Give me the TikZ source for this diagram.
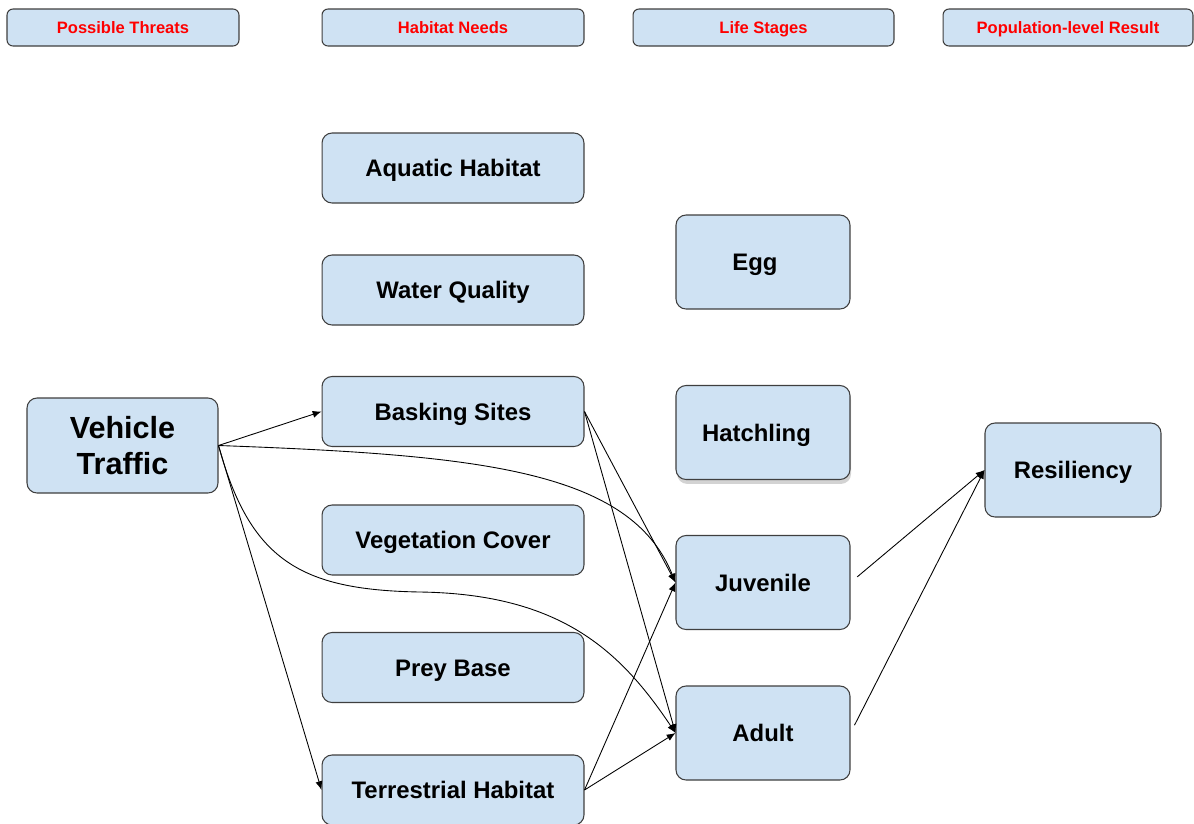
\documentclass[tikz,border=0pt]{standalone}
\usepackage{fontspec}
\setmainfont{Liberation Sans}
\usetikzlibrary{arrows.meta, shadows}
\definecolor{boxblue}{HTML}{CFE2F3}
\definecolor{boxline}{HTML}{3F3F3F}
\definecolor{headred}{HTML}{FF0000}

\begin{document}
\begin{tikzpicture}[x=0.02cm, y=-0.02cm]

\tikzset{box/.style = {shape=rectangle, rounded corners=0.2cm, draw=boxline, fill=boxblue, line width=0.6pt, inner sep=0pt, font=\fontsize{13.6}{16}\selectfont\bfseries}}
\tikzset{head/.style = {box, rounded corners=0.12cm, minimum height=0.74cm, text height=6.7pt, text depth=0pt, text=headred, font=\fontsize{9.4}{11}\selectfont\bfseries}}
\tikzset{need/.style = {box, minimum width=5.24cm, minimum height=1.4cm, text height=9.7pt, text depth=0pt}}
\tikzset{stage/.style = {box, minimum width=3.48cm, minimum height=1.88cm, text height=9.7pt, text depth=0pt}}
\tikzset{edge/.style = {-{Latex[length=5pt,width=4pt]}, line width=0.5pt}}

\useasboundingbox (0,0) rectangle (1194,823);

%headers
\node[head, minimum width=4.64cm] (threats) at (123,27.5) {Possible Threats};
\node[head, minimum width=5.24cm] (needs) at (453,27.5) {Habitat Needs};
\node[head, minimum width=5.22cm] (stages) at (763.5,27.5) {Life Stages};
\node[head, minimum width=5.0cm] (result) at (1068,27.5) {Population-level Result};
%threat
\node[box, minimum width=3.82cm, minimum height=1.9cm, align=center, font=\fontsize{17.4}{20.5}\selectfont\bfseries] (traffic) at (122.5,445.5) {Vehicle\\Traffic};
%habitat needs
\node[need] (aquatic) at (453,168) {Aquatic Habitat};
\node[need] (water) at (453,290) {Water Quality};
\node[need] (basking) at (453,411.5) {Basking Sites};
\node[need] (vegetation) at (453,540) {Vegetation Cover};
\node[need] (prey) at (453,667.5) {Prey Base};
\node[need] (terrestrial) at (453,790) {Terrestrial Habitat};
%life stages
\node[stage] (egg) at (763,262) {Egg\kern0.32cm};
\node[stage, drop shadow={shadow xshift=0.6pt, shadow yshift=-2.5pt, opacity=0.35}] (hatchling) at (763,432.5) {Hatchling\kern0.26cm};
\node[stage] (juvenile) at (763,582.5) {Juvenile};
\node[stage] (adult) at (763,733) {Adult};
%result
\node[stage, minimum width=3.52cm] (resiliency) at (1073,470) {Resiliency};
%edges
\draw [edge] (traffic.east) -- (basking.west);
\draw [edge] (traffic.east) .. controls (480,455) and (630,470) .. (juvenile.west);
\draw [edge] (traffic.east) .. controls (250,560) and (300,590) .. (420,592) .. controls (560,594) and (620,650) .. (adult.west);
\draw [edge] (traffic.east) -- (terrestrial.west);
\draw [edge] (basking.east) -- (juvenile.west);
\draw [edge] (basking.east) -- (adult.west);
\draw [edge] (terrestrial.east) -- (juvenile.west);
\draw [edge] (terrestrial.east) -- (adult.west);
\draw [edge, shorten <=5pt] (juvenile.east) -- (resiliency.west);
\draw [edge, shorten <=5pt] (adult.east) -- (resiliency.west);

\end{tikzpicture}
\end{document}
